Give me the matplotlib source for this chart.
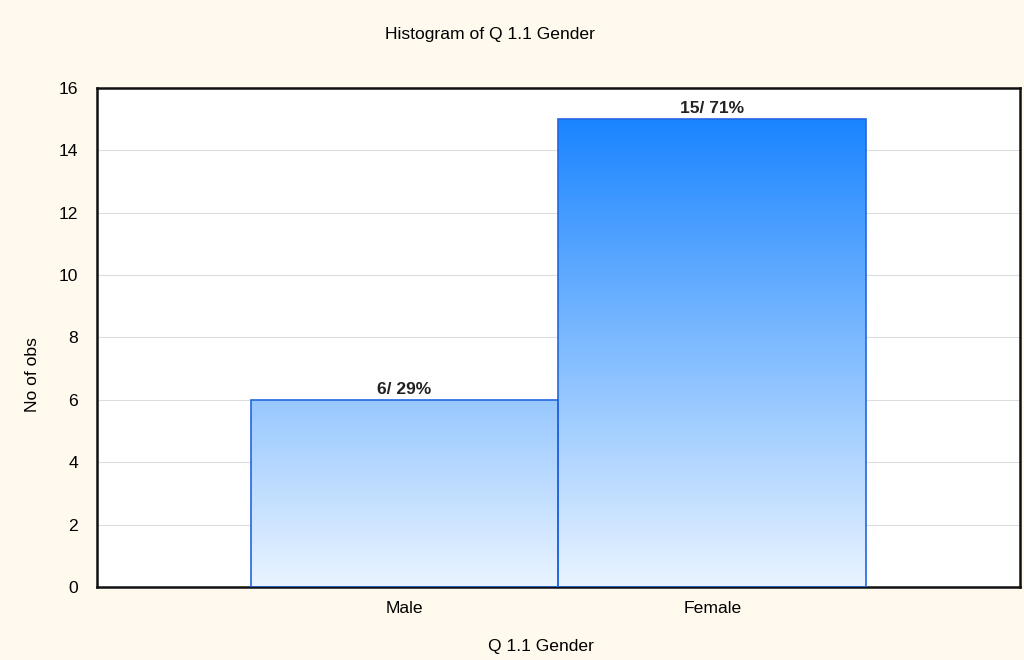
import numpy as np
import matplotlib
matplotlib.use("Agg")
import matplotlib.pyplot as plt
from matplotlib.colors import LinearSegmentedColormap
from matplotlib.patches import Rectangle

categories = ["Male", "Female"]
counts = [6, 15]
y_ticks = [0, 2, 4, 6, 8, 10, 12, 14, 16]

plt.rcParams["font.family"] = ["Liberation Sans", "DejaVu Sans"]

bg = "#fff9ee"
fs = 12.6
fig = plt.figure(figsize=(10.24, 6.6), dpi=100, facecolor=bg)
ax = fig.add_axes([0.0947, 0.1106, 0.9013, 0.7561])
ax.set_facecolor("white")

x = np.arange(1, len(categories) + 1)
ax.set_xlim(0, len(categories) + 1)
ax.set_ylim(0, 16)

# gradient shared by all bars: pale at 0, strong blue at the tallest bar
cmap = LinearSegmentedColormap.from_list("grad", ["#eaf4ff", "#1a85ff"])
top = max(counts)
grad = np.linspace(0, 1, 256).reshape(-1, 1)

total = sum(counts)
for xi, c in zip(x, counts):
    rect = Rectangle((xi - 0.5, 0), 1.0, c, facecolor="none",
                     edgecolor="#2466e0", linewidth=1.2, zorder=3)
    ax.add_patch(rect)
    im = ax.imshow(grad, cmap=cmap, aspect="auto", origin="lower",
                   extent=(xi - 0.5, xi + 0.5, 0, top), zorder=2)
    im.set_clip_path(rect)
    ax.text(xi, c + 0.1, f"{c}/ {round(100 * c / total)}%", ha="center",
            va="bottom", fontsize=12.5, fontweight="bold", color="#222222")

ax.set_xlim(0, len(categories) + 1)
ax.set_ylim(0, 16)
ax.set_xticks(x)
ax.set_xticklabels(categories, fontsize=fs)
ax.set_yticks(y_ticks)
ax.set_yticklabels([str(t) for t in y_ticks], fontsize=fs)
ax.tick_params(axis="x", direction="in", length=4, width=1.2, pad=10)
ax.tick_params(axis="y", length=0, pad=13.7)
ax.grid(axis="y", color="#dddddd", linewidth=0.8, zorder=0)
ax.set_axisbelow(True)
for s in ax.spines.values():
    s.set_linewidth(1.8)
    s.set_color("#111111")

fig.text(0.032, 0.432, "No of obs", rotation=90, ha="center", va="center", fontsize=fs)
fig.text(0.528, 0.021, "Q 1.1 Gender", ha="center", va="center", fontsize=fs)
fig.text(0.479, 0.948, "Histogram of Q 1.1 Gender", ha="center", va="center", fontsize=fs)

fig.savefig("out.png", dpi=100, facecolor=bg)
